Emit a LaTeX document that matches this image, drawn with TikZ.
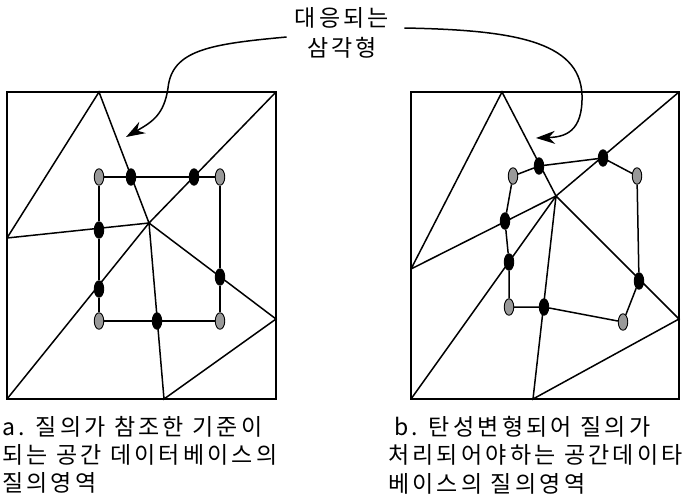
\documentclass[tikz,border=0pt]{standalone}
\usepackage{fontspec}
\newfontfamily\kr[LetterSpace=14]{Noto Sans CJK KR}
\usetikzlibrary{arrows.meta,shapes.geometric,positioning}

\begin{document}
\begin{tikzpicture}[x=1pt,y=-1pt,
  edge/.style={line width=1.5pt},
  frame/.style={line width=1.8pt},
  dotb/.style={ellipse,draw=black,line width=0.9pt,fill=black,minimum width=9.5pt,minimum height=16.5pt,inner sep=0pt},
  dotg/.style={dotb,fill=gray!80},
  callout/.style={line width=1.5pt,-{Stealth[length=19pt,width=13pt]}},
  caption/.style={font=\kr\fontsize{23}{28.3}\selectfont,align=left,inner sep=0pt,anchor=north west}
]
  \useasboundingbox (0,0) rectangle (683,501);
  % panel a: reference space
  \coordinate (aTL) at (7,92);   \coordinate (aTR) at (276,92);
  \coordinate (aBL) at (7,399);  \coordinate (aBR) at (276,399);
  \coordinate (aT) at (99,92);   \coordinate (aL) at (7,238);
  \coordinate (aC) at (149,223); \coordinate (aR) at (276,319);
  \coordinate (aB) at (164,399);
  \draw[frame] (aTL) rectangle (aBR);
  \draw[edge] (aL) -- (aT) -- (aC) -- (aL);
  \draw[edge] (aTR) -- (aC) -- (aBL);
  \draw[edge] (aC) -- (aR) -- (aB) -- (aC);
  % panel b: deformed space
  \coordinate (bTL) at (411,92);   \coordinate (bTR) at (679,92);
  \coordinate (bBL) at (411,399);  \coordinate (bBR) at (679,399);
  \coordinate (bT) at (502,92);    \coordinate (bL) at (411,269);
  \coordinate (bC) at (556,196);   \coordinate (bR) at (679,319);
  \coordinate (bB) at (533,399);
  \draw[frame] (bTL) rectangle (bBR);
  \draw[edge] (bL) -- (bT) -- (bC) -- (bL);
  \draw[edge] (bTR) -- (bC) -- (bBL);
  \draw[edge] (bC) -- (bR) -- (bB) -- (bC);
  % query points: name, x, y, style
  \foreach \n/\x/\y/\s in {%
    a1/99/177/dotg, a2/131/177/dotb, a3/194/177/dotb, a4/220/177/dotg,
    a5/220/277/dotb, a6/220/321/dotg, a7/157/321/dotb, a8/99/321/dotg,
    a9/99/289/dotb, a10/99/230/dotb,
    b1/513/176/dotg, b2/539/166/dotb, b3/603/158/dotb, b4/637/176/dotg,
    b5/639/281/dotb, b6/623/322/dotg, b7/544/307/dotb, b8/509/307/dotg,
    b9/509/262/dotb, b10/505/221/dotb%
  }{
    \node[\s] (\n) at (\x,\y) {};
  }
  \draw[edge] (a1) -- (a2) -- (a3) -- (a4) -- (a5) -- (a6) -- (a7) -- (a8) -- (a9) -- (a10) -- (a1);
  \draw[edge] (b1) -- (b2) -- (b3) -- (b4) -- (b5) -- (b6) -- (b7) -- (b8) -- (b9) -- (b10) -- (b1);
  % label with callouts
  \node[font=\kr\fontsize{23}{30}\selectfont,align=center,inner sep=0pt] (lbl) at (342,33) {대응되는\\삼각형};
  \draw[callout] ([shift={(-8pt,-4pt)}]lbl.west) .. controls (210,44) and (172,50) .. (168,88)
    .. controls (164,115) and (152,122) .. (126,137);
  \draw[callout] ([shift={(15pt,5pt)}]lbl.east) .. controls (510,30) and (580,40) .. (582,95)
    .. controls (583,132) and (565,137) .. (536,138);
  % captions
  \node[caption] (capA) at (2,416) {a. 질의가 참조한 기준이\\되는 공간 데이터베이스의\\질의영역};
  \node[caption] (capB) at (388,416) {\hspace{6pt}b. 탄성변형되어 질의가\\처리되어야하는 공간데이타\\베이스의 질의영역};
\end{tikzpicture}
\end{document}
